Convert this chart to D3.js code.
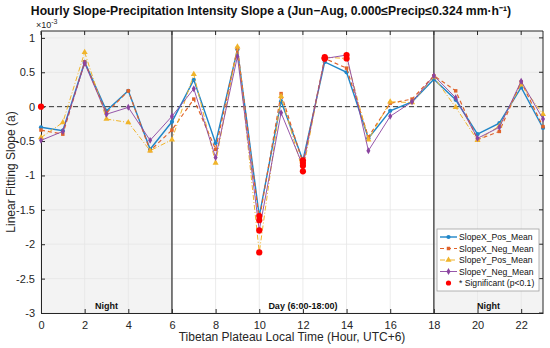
<!DOCTYPE html>
<html>
<head>
<meta charset="utf-8">
<script src="https://cdn.jsdelivr.net/npm/d3@7"></script>
<style>
  body { margin: 0; background: #fff; }
  text { font-family: "Liberation Sans", Arial, sans-serif; }
</style>
</head>
<body>
<svg id="chart" width="550" height="348"></svg>
<script>
// hours of the day
var hours = [0,1,2,3,4,5,6,7,8,9,10,11,12,13,14,15,16,17,18,19,20,21,22,23];

// slope values (x 10^-3)
var slopeXPos = [-0.30,-0.35,0.65,-0.06,0.23,-0.62,-0.22,0.39,-0.53,0.83,-1.59,0.08,-0.78,0.65,0.50,-0.46,-0.06,0.07,0.40,0.10,-0.40,-0.24,0.28,-0.31];
var slopeXNeg = [-0.34,-0.40,0.65,-0.09,0.23,-0.64,-0.34,0.11,-0.62,0.85,-1.65,0.19,-0.82,0.70,0.56,-0.44,0.05,0.11,0.45,0.23,-0.48,-0.36,0.36,-0.29];
var slopeYPos = [-0.45,-0.23,0.79,-0.18,-0.23,-0.64,-0.48,0.47,-0.82,0.87,-2.12,0.15,-0.94,0.72,0.70,-0.48,0.07,0.06,0.43,-0.01,-0.49,-0.28,0.32,-0.11];
var slopeYNeg = [-0.49,-0.36,0.63,-0.11,-0.01,-0.49,-0.14,0.26,-0.74,0.73,-1.80,-0.09,-0.86,0.70,0.75,-0.64,-0.14,0.07,0.45,0.13,-0.46,-0.30,0.37,-0.18];

// hours where each series is significant (p<0.1)
var sigXPos = [10, 12];
var sigXNeg = [10, 12, 13];
var sigYPos = [10, 12, 13, 14];
var sigYNeg = [10, 12, 13, 14];
var sigExtra = [[0, 0]];

var xTicks = [0,2,4,6,8,10,12,14,16,18,20,22];
var yTicks = [1,0.5,0,-0.5,-1,-1.5,-2,-2.5,-3];

var series = [
  {name: "SlopeX_Pos_Mean", values: slopeXPos, sig: sigXPos, color: "#1f86c8", dash: null, width: 1.4, marker: d3.symbolCircle, msize: 14},
  {name: "SlopeX_Neg_Mean", values: slopeXNeg, sig: sigXNeg, color: "#e0622a", dash: "4,3", width: 1.2, marker: d3.symbolSquare, msize: 12},
  {name: "SlopeY_Pos_Mean", values: slopeYPos, sig: sigYPos, color: "#f0b42a", dash: "5,2,1,2", width: 1.0, marker: d3.symbolTriangle, msize: 16},
  {name: "SlopeY_Neg_Mean", values: slopeYNeg, sig: sigYNeg, color: "#8a44a0", dash: null, width: 0.9, marker: d3.symbolDiamond, msize: 14}
];

var svg = d3.select("#chart");
var pLeft = 41, pRight = 543, pTop = 31, pBottom = 313;

var x = d3.scaleLinear().domain([0, 23]).range([pLeft, pRight]);
var y = d3.scaleLinear().domain([-3, 1.1]).range([pBottom, pTop]);

// night shading
svg.append("rect").attr("x", x(0)).attr("y", pTop).attr("width", x(6) - x(0)).attr("height", pBottom - pTop).attr("fill", "#f3f3f3");
svg.append("rect").attr("x", x(18)).attr("y", pTop).attr("width", x(23) - x(18)).attr("height", pBottom - pTop).attr("fill", "#f3f3f3");

// grid
svg.append("g").selectAll("line").data(xTicks).enter().append("line")
  .attr("x1", d => x(d)).attr("x2", d => x(d)).attr("y1", pTop).attr("y2", pBottom)
  .attr("stroke", "#e6e6e6").attr("stroke-width", 0.8);
svg.append("g").selectAll("line").data(yTicks).enter().append("line")
  .attr("x1", pLeft).attr("x2", pRight).attr("y1", d => y(d)).attr("y2", d => y(d))
  .attr("stroke", "#e6e6e6").attr("stroke-width", 0.8);

// axes (ticks inward)
var xAxis = svg.append("g").attr("transform", "translate(0," + pBottom + ")")
  .call(d3.axisBottom(x).tickValues(xTicks).tickSizeInner(-4).tickSizeOuter(0).tickPadding(8));
var yAxis = svg.append("g").attr("transform", "translate(" + pLeft + ",0)")
  .call(d3.axisLeft(y).tickValues(yTicks).tickSizeInner(-4).tickSizeOuter(0).tickPadding(6).tickFormat(d3.format("")));
[xAxis, yAxis].forEach(function(a) {
  a.selectAll("text").attr("font-size", "11px").attr("fill", "#262626").style("font-family", "Liberation Sans, Arial, sans-serif");
  a.selectAll("line").attr("stroke", "#262626");
  a.select(".domain").attr("stroke", "#262626");
});
yAxis.selectAll("text").text(d => String(d));

// top/right frame
svg.append("line").attr("x1", pLeft).attr("x2", pRight).attr("y1", pTop).attr("y2", pTop).attr("stroke", "#262626");
svg.append("line").attr("x1", pRight).attr("x2", pRight).attr("y1", pTop).attr("y2", pBottom).attr("stroke", "#262626");
svg.append("g").selectAll("line").data(xTicks).enter().append("line")
  .attr("x1", d => x(d)).attr("x2", d => x(d)).attr("y1", pTop).attr("y2", pTop + 4).attr("stroke", "#262626");
svg.append("g").selectAll("line").data(yTicks).enter().append("line")
  .attr("x1", pRight).attr("x2", pRight - 4).attr("y1", d => y(d)).attr("y2", d => y(d)).attr("stroke", "#262626");

// day/night boundaries
[6, 18].forEach(function(h) {
  svg.append("line").attr("x1", x(h)).attr("x2", x(h)).attr("y1", pTop).attr("y2", pBottom)
    .attr("stroke", "#3a3a3a").attr("stroke-width", 1.3);
});

// zero line
svg.append("line").attr("x1", pLeft).attr("x2", pRight).attr("y1", y(0)).attr("y2", y(0))
  .attr("stroke", "#333").attr("stroke-width", 1).attr("stroke-dasharray", "5,3");

// series
var line = d3.line().x((d, i) => x(hours[i])).y(d => y(d));
series.forEach(function(s) {
  svg.append("path").datum(s.values).attr("d", line)
    .attr("fill", "none").attr("stroke", s.color).attr("stroke-width", s.width)
    .attr("stroke-dasharray", s.dash);
  svg.append("g").selectAll("path").data(s.values).enter().append("path")
    .attr("d", d3.symbol().type(s.marker).size(s.msize))
    .attr("transform", (d, i) => "translate(" + x(hours[i]) + "," + y(d) + ")")
    .attr("fill", s.color);
});

// significant points
series.forEach(function(s) {
  svg.append("g").selectAll("circle").data(s.sig).enter().append("circle")
    .attr("cx", h => x(h)).attr("cy", h => y(s.values[hours.indexOf(h)]))
    .attr("r", 3.1).attr("fill", "#ff0000");
});
svg.append("g").selectAll("circle").data(sigExtra).enter().append("circle")
  .attr("cx", d => x(d[0])).attr("cy", d => y(d[1])).attr("r", 3.1).attr("fill", "#ff0000");

// period labels
var periods = [[3, "Night"], [12, "Day (6:00-18:00)"], [20.5, "Night"]];
svg.append("g").selectAll("text").data(periods).enter().append("text")
  .attr("x", d => x(d[0])).attr("y", 309).attr("text-anchor", "middle")
  .attr("font-size", "9px").attr("font-weight", "bold").attr("fill", "#111")
  .text(d => d[1]);

// legend
var lg = svg.append("g").attr("transform", "translate(437,229)");
lg.append("rect").attr("width", 102).attr("height", 62).attr("fill", "#fff").attr("stroke", "#a0a0a0").attr("stroke-width", 0.8);
series.forEach(function(s, i) {
  var yy = 8 + i * 11.5;
  lg.append("line").attr("x1", 3).attr("x2", 20).attr("y1", yy).attr("y2", yy)
    .attr("stroke", s.color).attr("stroke-width", s.width).attr("stroke-dasharray", s.dash);
  lg.append("path").attr("d", d3.symbol().type(s.marker).size(s.msize))
    .attr("transform", "translate(11.5," + yy + ")").attr("fill", s.color);
  lg.append("text").attr("x", 22).attr("y", yy + 3.2).attr("font-size", "8.6px").attr("fill", "#111").text(s.name);
});
lg.append("circle").attr("cx", 11.5).attr("cy", 54).attr("r", 2.6).attr("fill", "#ff0000");
lg.append("text").attr("x", 22).attr("y", 57.2).attr("font-size", "8.6px").attr("fill", "#111").text("* Significant (p<0.1)");

// title
svg.append("text").attr("x", 271).attr("y", 15).attr("text-anchor", "middle")
  .attr("font-size", "12.2px").attr("font-weight", "bold").attr("fill", "#111")
  .text("Hourly Slope-Precipitation Intensity Slope a (Jun\u2212Aug, 0.000\u2264Precip\u22640.324 mm\u00b7h\u207b\u00b9)");

// exponent label
var ex = svg.append("text").attr("x", 36).attr("y", 28).attr("font-size", "9px").attr("fill", "#262626");
ex.append("tspan").text("\u00d710");
ex.append("tspan").attr("dy", -4).attr("font-size", "7px").text("-3");

// axis labels
svg.append("text").attr("x", 292).attr("y", 341).attr("text-anchor", "middle")
  .attr("font-size", "12px").attr("fill", "#262626").text("Tibetan Plateau Local Time (Hour, UTC+6)");
svg.append("text").attr("transform", "translate(15," + ((pTop + pBottom) / 2) + ") rotate(-90)")
  .attr("text-anchor", "middle").attr("font-size", "12px").attr("fill", "#262626").text("Linear Fitting Slope (a)");
</script>
</body>
</html>
